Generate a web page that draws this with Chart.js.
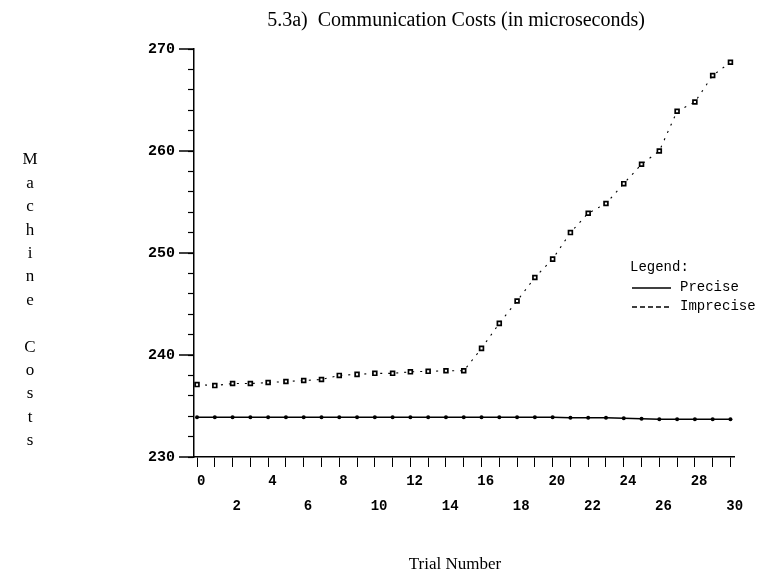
<!DOCTYPE html>
<html>
<head>
<meta charset="utf-8">
<script src="https://cdn.jsdelivr.net/npm/chart.js@4/dist/chart.umd.min.js"></script>
<style>
  html, body { margin: 0; padding: 0; background: #fff; }
  #wrap { width: 760px; height: 575px; position: relative; }
</style>
</head>
<body>
<div id="wrap"><canvas id="c" width="760" height="575"></canvas></div>
<script>
// Trial numbers along the x axis
const trials = [0,1,2,3,4,5,6,7,8,9,10,11,12,13,14,15,16,17,18,19,20,21,22,23,24,25,26,27,28,29,30];

// Machine costs (microseconds) per trial
const precise = [233.9,233.9,233.9,233.9,233.9,233.9,233.9,233.9,233.9,233.9,
                 233.9,233.9,233.9,233.9,233.9,233.9,233.9,233.9,233.9,233.9,
                 233.9,233.85,233.85,233.85,233.8,233.75,233.7,233.7,233.7,233.7,233.7];
const imprecise = [237.1,237.0,237.2,237.2,237.3,237.4,237.5,237.6,238.0,238.1,
                   238.2,238.2,238.35,238.4,238.45,238.45,240.65,243.1,245.3,247.6,
                   249.4,252.0,253.9,254.85,256.8,258.7,260.0,263.9,264.8,267.4,268.7];

// Axis ranges and labelled ticks
const yLabelTicks = [230, 240, 250, 260, 270];
const xTopRowTicks = [0, 4, 8, 12, 16, 20, 24, 28];
const xBottomRowTicks = [2, 6, 10, 14, 18, 22, 26, 30];

const titleText = '5.3a)  Communication Costs (in microseconds)';
const xTitleText = 'Trial Number';
const yTitleText = 'Machine Costs';
const seriesNames = ['Precise', 'Imprecise'];

const INK = '#000';
const serif = '"Liberation Serif", "Times New Roman", serif';
const mono = '"Liberation Mono", "DejaVu Sans Mono", monospace';

const toPoints = (vals) => trials.map((t, i) => ({ x: t, y: vals[i] }));

// Titles, stacked y label, long y ticks and the legend box
const decorations = {
  id: 'decorations',
  afterDraw(chart) {
    const ctx = chart.ctx;
    const ys = chart.scales.y;
    const xs = chart.scales.x;
    ctx.save();
    ctx.fillStyle = INK;
    ctx.strokeStyle = INK;

    // long tick marks at labelled y values
    ctx.lineWidth = 1.5;
    yLabelTicks.forEach(v => {
      const py = ys.getPixelForValue(v);
      ctx.beginPath();
      ctx.moveTo(xs.left - 15, py);
      ctx.lineTo(xs.left, py);
      ctx.stroke();
    });

    // chart title
    ctx.font = '20px ' + serif;
    ctx.textAlign = 'center';
    ctx.textBaseline = 'middle';
    ctx.fillText(titleText, 456, 21);

    // x axis title
    ctx.font = '17px ' + serif;
    ctx.fillText(xTitleText, 455, 565);

    // y axis title, one letter per row
    ctx.font = '17px ' + serif;
    const letters = yTitleText.split('');
    letters.forEach((ch, i) => {
      if (ch !== ' ') ctx.fillText(ch, 30, 160 + i * 23.4);
    });

    // legend
    ctx.font = '14px ' + mono;
    ctx.textAlign = 'left';
    ctx.fillText('Legend:', 630, 267);
    const rows = [
      { name: seriesNames[0], y: 288, dash: [] },
      { name: seriesNames[1], y: 307, dash: [5, 3] }
    ];
    rows.forEach(r => {
      ctx.lineWidth = 1.3;
      ctx.setLineDash(r.dash);
      ctx.beginPath();
      ctx.moveTo(632, r.y);
      ctx.lineTo(671, r.y);
      ctx.stroke();
      ctx.setLineDash([]);
      ctx.fillText(r.name, 680, r.y - 1);
    });
    ctx.restore();
  }
};

new Chart(document.getElementById('c'), {
  type: 'line',
  data: {
    datasets: [
      {
        label: seriesNames[0],
        data: toPoints(precise),
        borderColor: INK,
        borderWidth: 1.6,
        pointStyle: 'circle',
        pointRadius: 2,
        pointBackgroundColor: INK,
        pointBorderColor: INK,
        pointBorderWidth: 0,
        tension: 0,
        clip: false
      },
      {
        label: seriesNames[1],
        data: toPoints(imprecise),
        borderColor: INK,
        borderWidth: 1.1,
        borderDash: [2, 6],
        pointStyle: 'rect',
        pointRadius: 2.7,
        pointBackgroundColor: '#fff',
        pointBorderColor: INK,
        pointBorderWidth: 1.7,
        tension: 0,
        clip: false
      }
    ]
  },
  options: {
    responsive: false,
    animation: false,
    devicePixelRatio: 1,
    layout: { padding: { left: 0, right: 26, top: 49, bottom: 0 } },
    plugins: {
      legend: { display: false },
      tooltip: { enabled: false },
      title: { display: false }
    },
    scales: {
      x: {
        type: 'linear',
        min: -0.17,
        max: 30.2,
        afterFit(scale) { scale.height = 118; },
        afterBuildTicks(scale) {
          scale.ticks = trials.map(v => ({ value: v }));
        },
        border: { display: true, color: INK, width: 1.5 },
        grid: {
          display: true,
          drawOnChartArea: false,
          drawTicks: true,
          tickLength: 10,
          tickColor: INK,
          tickWidth: 1
        },
        ticks: {
          autoSkip: false,
          maxRotation: 0,
          padding: 2,
          color: INK,
          font: { family: mono, size: 14, weight: 'bold', lineHeight: 1.8 },
          callback(v) {
            if (xTopRowTicks.includes(v)) return ' ' + v;
            if (xBottomRowTicks.includes(v)) return ['', ' ' + v];
            return '';
          }
        }
      },
      y: {
        type: 'linear',
        min: 230,
        max: 270,
        afterFit(scale) { scale.width = 194; },
        border: { display: true, color: INK, width: 1.5 },
        grid: {
          display: true,
          drawOnChartArea: false,
          drawTicks: true,
          tickLength: 6,
          tickColor: INK,
          tickWidth: 1.2
        },
        ticks: {
          stepSize: 2,
          autoSkip: false,
          padding: 13,
          color: INK,
          font: { family: mono, size: 15, weight: 'bold' },
          callback(v) { return yLabelTicks.includes(v) ? String(v) : ''; }
        }
      }
    }
  },
  plugins: [decorations]
});
</script>
</body>
</html>
